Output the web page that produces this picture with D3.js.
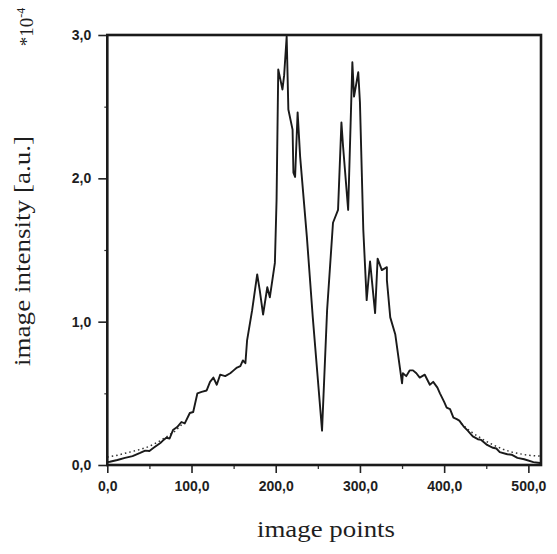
<!DOCTYPE html>
<html>
<head>
<meta charset="utf-8">
<script src="https://cdn.jsdelivr.net/npm/d3@7"></script>
<style>
  body { margin: 0; background: #fff; }
  svg text { fill: #1e1e1e; }
</style>
</head>
<body>
<div id="chart"></div>
<script>
// solid profile, image points vs intensity (units of 1e-4)
const solidX = [0, 3, 12, 21, 30, 39, 45, 50, 55, 63, 66, 70, 74, 78, 83, 88, 92, 98, 102, 107,
  112, 118, 122, 126, 130, 134, 140, 146, 150, 154, 158, 161, 164,
  166, 172, 178, 181, 185, 190, 193, 199, 201, 203, 208, 210, 213, 215, 220, 221, 223, 226, 229, 237,
  244, 255, 261, 268, 274, 278, 280, 286, 291, 293, 298, 300, 304, 308, 312, 318, 321, 326, 332, 332,
  336, 342, 350, 351, 355, 359, 363, 367, 371, 377, 383, 387, 392, 395, 400, 403, 407, 411, 415, 418,
  423, 428, 434, 440, 444, 451, 458, 462, 466, 475, 480, 487, 495, 506, 514]
const solidY = [0.02, 0.023, 0.035, 0.05, 0.062, 0.084, 0.10, 0.098, 0.12, 0.154, 0.17, 0.19, 0.185, 0.244, 0.265, 0.30, 0.29, 0.363, 0.37, 0.50,
  0.51, 0.52, 0.58, 0.61, 0.56, 0.63, 0.62, 0.64, 0.66, 0.68, 0.69, 0.73, 0.71,
  0.87, 1.08, 1.33, 1.22, 1.05, 1.24, 1.17, 1.41, 1.85, 2.76, 2.62, 2.72, 2.99, 2.48, 2.34, 2.04, 2.01, 2.46, 2.15, 1.59,
  1.03, 0.24, 1.08, 1.69, 1.78, 2.39, 2.22, 1.78, 2.81, 2.57, 2.74, 2.53, 1.64, 1.15, 1.42, 1.06, 1.44, 1.36, 1.38, 1.29,
  1.03, 0.91, 0.57, 0.64, 0.62, 0.66, 0.66, 0.64, 0.61, 0.63, 0.56, 0.58, 0.54, 0.50, 0.44, 0.40, 0.39, 0.33, 0.32, 0.31,
  0.27, 0.24, 0.20, 0.18, 0.175, 0.14, 0.12, 0.115, 0.09, 0.075, 0.072, 0.05, 0.04, 0.02, 0.014]

// dotted profile, only separated from the solid one at the tails
const dotLeftX = [0, 10, 20, 30, 40, 50, 60, 70, 80, 90]
const dotLeftY = [0.055, 0.065, 0.08, 0.095, 0.11, 0.13, 0.16, 0.195, 0.235, 0.29]
const dotRightX = [420, 430, 440, 450, 460, 470, 480, 490, 500, 508, 514]
const dotRightY = [0.29, 0.24, 0.20, 0.165, 0.135, 0.11, 0.09, 0.078, 0.068, 0.064, 0.062]

const xTicks = [0, 100, 200, 300, 400, 500]
const xMinor = [50, 150, 250, 350, 450]
const yTicks = [0, 1, 2, 3]
const yMinor = [0.5, 1.5, 2.5]

const W = 557, H = 554
const x = d3.scaleLinear().domain([0, 515]).range([107.3, 541])
const y = d3.scaleLinear().domain([0, 3]).range([465, 35])
const fmt = d => d3.format(".1f")(d).replace(".", ",")

const svg = d3.select("#chart").append("svg")
  .attr("width", W).attr("height", H)

const tickFont = "'Liberation Sans', Arial, sans-serif"

// x axis
const xAxis = svg.append("g").attr("transform", "translate(0,465)")
  .call(d3.axisBottom(x).tickValues(xTicks).tickFormat(fmt).tickSize(8).tickPadding(8))
xAxis.select(".domain").remove()
xAxis.selectAll("line").attr("stroke", "#222").attr("stroke-width", 1.6)
xAxis.selectAll("text").attr("font-family", tickFont).attr("font-weight", "bold").attr("font-size", 14)
const xAxisMinor = svg.append("g").attr("transform", "translate(0,465)")
  .call(d3.axisBottom(x).tickValues(xMinor).tickFormat("").tickSize(4))
xAxisMinor.select(".domain").remove()
xAxisMinor.selectAll("line").attr("stroke", "#333").attr("stroke-width", 1.3)

// y axis
const yAxis = svg.append("g").attr("transform", "translate(107.3,0)")
  .call(d3.axisLeft(y).tickValues(yTicks).tickFormat(fmt).tickSize(9).tickPadding(7))
yAxis.select(".domain").remove()
yAxis.selectAll("line").attr("stroke", "#222").attr("stroke-width", 1.6)
yAxis.selectAll("text").attr("font-family", tickFont).attr("font-weight", "bold").attr("font-size", 14)
const yAxisMinor = svg.append("g").attr("transform", "translate(107.3,0)")
  .call(d3.axisLeft(y).tickValues(yMinor).tickFormat("").tickSize(3))
yAxisMinor.select(".domain").remove()
yAxisMinor.selectAll("line").attr("stroke", "#333").attr("stroke-width", 1.2)

// dotted curves
const line = d3.line().x(d => x(d[0])).y(d => y(d[1]))
svg.append("path")
  .attr("d", line(d3.zip(dotLeftX, dotLeftY)))
  .attr("fill", "none").attr("stroke", "#333").attr("stroke-width", 1.5)
  .attr("stroke-dasharray", "1.5,3")
svg.append("path")
  .attr("d", line(d3.zip(dotRightX, dotRightY)))
  .attr("fill", "none").attr("stroke", "#333").attr("stroke-width", 1.5)
  .attr("stroke-dasharray", "1.5,3")

// solid curve
svg.append("path")
  .attr("d", line(d3.zip(solidX, solidY)))
  .attr("fill", "none").attr("stroke", "#1a1a1a").attr("stroke-width", 1.9)
  .attr("stroke-linejoin", "round")

// frame
svg.append("rect")
  .attr("x", x(0)).attr("y", y(3))
  .attr("width", x(515) - x(0)).attr("height", y(0) - y(3))
  .attr("fill", "none").attr("stroke", "#1a1a1a").attr("stroke-width", 2.6)

// labels
svg.append("text")
  .attr("transform", "translate(33,27) rotate(-90)")
  .attr("text-anchor", "middle")
  .attr("font-family", "'Liberation Serif', serif").attr("font-size", 19)
  .text("*10")
  .append("tspan").attr("dy", -8).attr("font-size", 12).text("-4")

svg.append("text")
  .attr("transform", "translate(30,251) rotate(-90)")
  .attr("text-anchor", "middle")
  .attr("font-family", "'Liberation Serif', serif").attr("font-size", 23)
  .attr("textLength", 230).attr("lengthAdjust", "spacingAndGlyphs")
  .text("image intensity [a.u.]")

svg.append("text")
  .attr("x", 326).attr("y", 537)
  .attr("text-anchor", "middle")
  .attr("font-family", "'Liberation Serif', serif").attr("font-size", 24)
  .attr("textLength", 138).attr("lengthAdjust", "spacingAndGlyphs")
  .text("image points")
</script>
</body>
</html>
